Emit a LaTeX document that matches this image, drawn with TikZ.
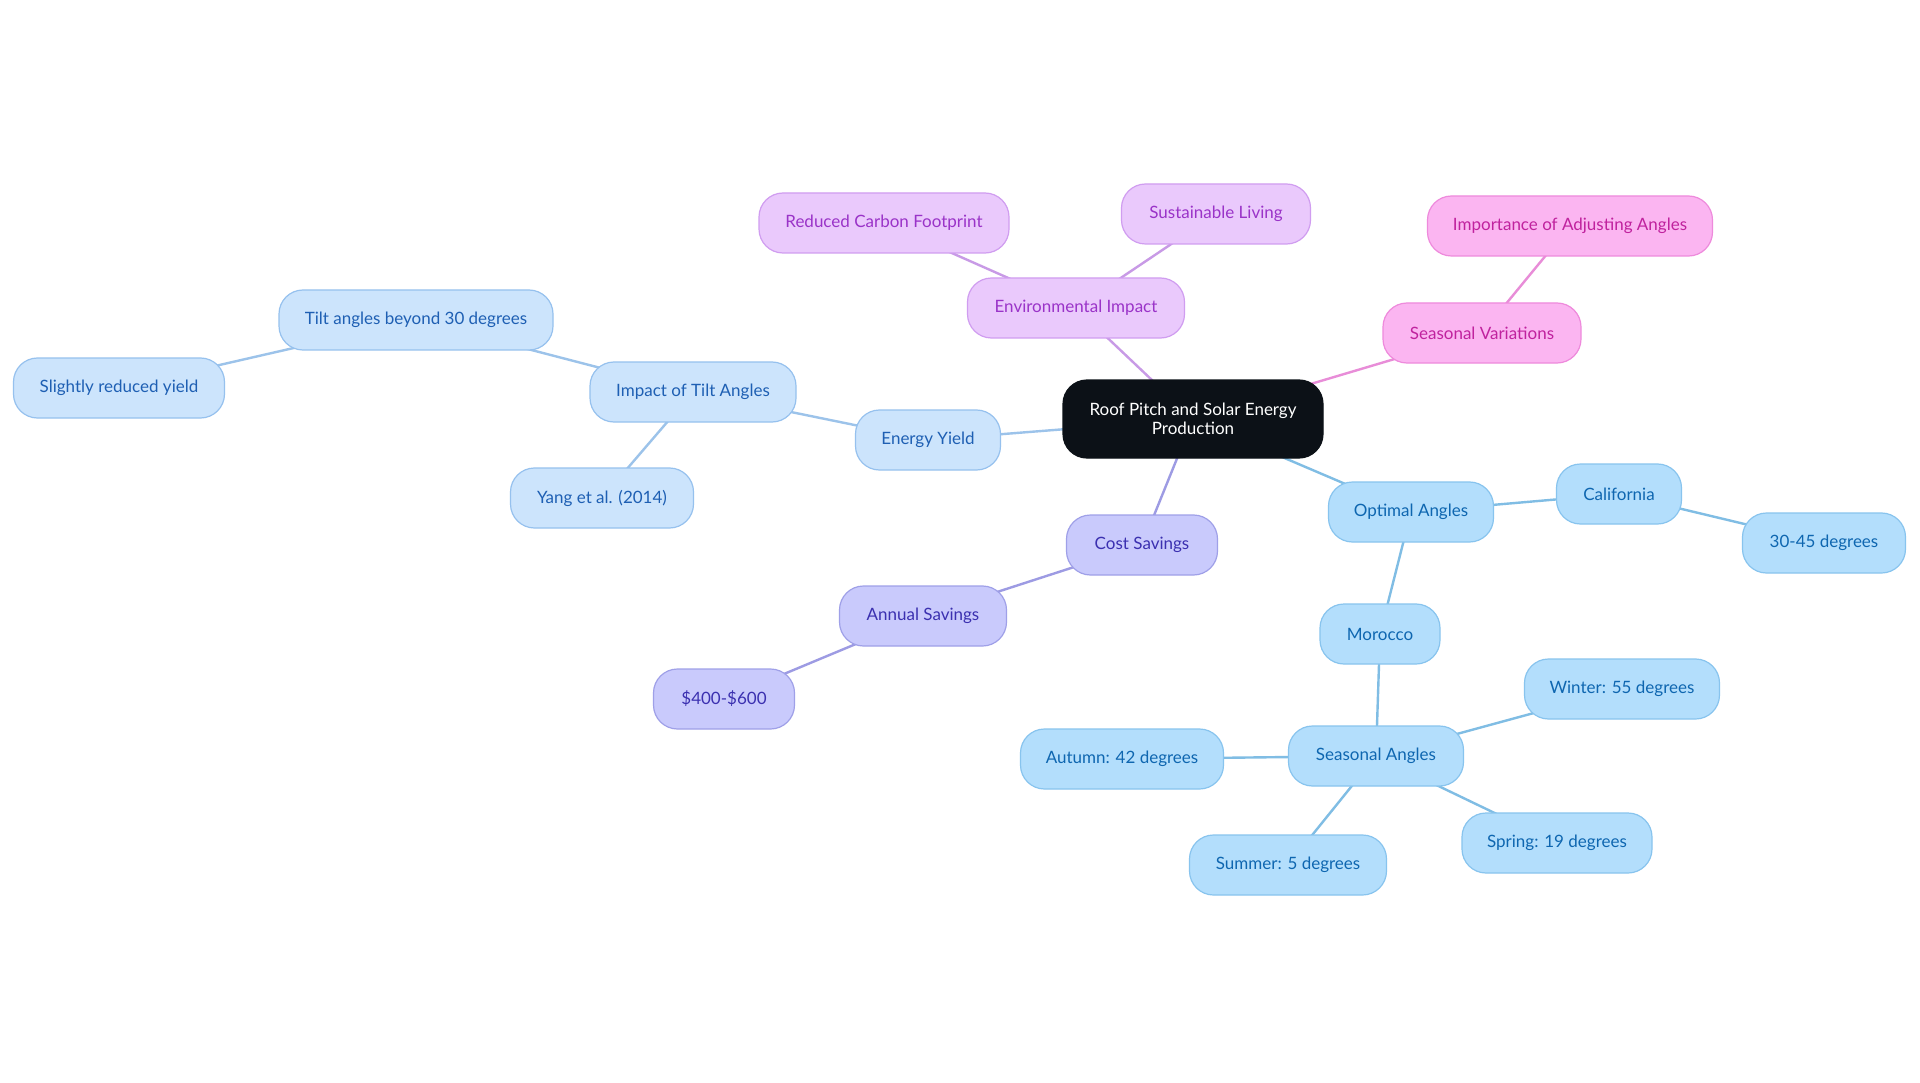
\documentclass[tikz,border=0pt]{standalone}
\usepackage{fontspec}
\setmainfont{Lato}
\usetikzlibrary{backgrounds}
\definecolor{rootfill}{HTML}{0C1117}
\definecolor{bfill}{HTML}{CCE4FC}\definecolor{bdraw}{HTML}{96C1EE}\definecolor{btext}{HTML}{1E5FB3}\definecolor{bedge}{HTML}{9CC3EA}
\definecolor{cfill}{HTML}{B3DEFC}\definecolor{cdraw}{HTML}{88C4EE}\definecolor{ctext}{HTML}{0E66B0}\definecolor{cedge}{HTML}{80BDE4}
\definecolor{pfill}{HTML}{EAC9FC}\definecolor{pdraw}{HTML}{D09DF0}\definecolor{ptext}{HTML}{9A33C8}\definecolor{pedge}{HTML}{C89AE6}
\definecolor{kfill}{HTML}{FBB5F1}\definecolor{kdraw}{HTML}{EE8ADC}\definecolor{ktext}{HTML}{C0229E}\definecolor{kedge}{HTML}{E88DD8}
\definecolor{lfill}{HTML}{C9CAFC}\definecolor{ldraw}{HTML}{9FA0E8}\definecolor{ltext}{HTML}{3B30B0}\definecolor{ledge}{HTML}{9D9BE3}
\begin{document}
\begin{tikzpicture}[x=1pt,y=-1pt,
  box/.style={rounded corners=24pt, minimum height=60pt, line width=1.2pt, inner sep=0pt, align=center, font=\fontsize{17}{20}\selectfont},
  rootbox/.style={box, fill=rootfill, draw=rootfill, text=white, minimum height=78pt, minimum width=260pt, font=\fontsize{17}{18.5}\selectfont},
  bluebox/.style={box, fill=bfill, draw=bdraw, text=btext},
  cyanbox/.style={box, fill=cfill, draw=cdraw, text=ctext},
  purpbox/.style={box, fill=pfill, draw=pdraw, text=ptext},
  pinkbox/.style={box, fill=kfill, draw=kdraw, text=ktext},
  lavbox/.style={box, fill=lfill, draw=ldraw, text=ltext},
  link/.style={line width=2.4pt}
]
\useasboundingbox (0,0) rectangle (1920,1083);
\node[rootbox] (root) at (1193,419) {Roof Pitch and Solar Energy\\Production};
% Energy yield branch
\node[bluebox, minimum width=145pt] (ey) at (928,440) {Energy Yield};
\node[bluebox, minimum width=206pt] (ita) at (693,392) {Impact of Tilt Angles};
\node[bluebox, minimum width=274pt] (tab) at (416,320) {Tilt angles beyond 30 degrees};
\node[bluebox, minimum width=211pt] (sry) at (119,388) {Slightly reduced yield};
\node[bluebox, minimum width=183pt] (yang) at (602,498) {Yang et al. (2014)};
% Environmental
\node[purpbox, minimum width=217pt] (env) at (1076,308) {Environmental Impact};
\node[purpbox, minimum width=250pt] (rcf) at (884,223) {Reduced Carbon Footprint};
\node[purpbox, minimum width=189pt] (sl) at (1216,214) {Sustainable Living};
% Seasonal variations
\node[pinkbox, minimum width=198pt] (sv) at (1482,333) {Seasonal Variations};
\node[pinkbox, minimum width=285pt] (iaa) at (1570,226) {Importance of Adjusting Angles};
% Cost savings
\node[lavbox, minimum width=151pt] (cs) at (1142,545) {Cost Savings};
\node[lavbox, minimum width=167pt] (as) at (923,616) {Annual Savings};
\node[lavbox, minimum width=141pt] (usd) at (724,699) {\$400-\$600};
% Optimal angles
\node[cyanbox, minimum width=165pt] (oa) at (1411,512) {Optimal Angles};
\node[cyanbox, minimum width=125pt] (cal) at (1619,494) {California};
\node[cyanbox, minimum width=163pt] (c45) at (1824,543) {30-45 degrees};
\node[cyanbox, minimum width=120pt] (mor) at (1380,634) {Morocco};
\node[cyanbox, minimum width=175pt] (sa) at (1376,756) {Seasonal Angles};
\node[cyanbox, minimum width=195pt] (win) at (1622,689) {Winter: 55 degrees};
\node[cyanbox, minimum width=203pt] (aut) at (1122,759) {Autumn: 42 degrees};
\node[cyanbox, minimum width=197pt] (sum) at (1288,865) {Summer: 5 degrees};
\node[cyanbox, minimum width=190pt] (spr) at (1557,843) {Spring: 19 degrees};
\begin{scope}[on background layer]
\fill[white] (0,0) rectangle (1920,1083);
\draw[link, bedge] (root.center) -- (ey.center);
\draw[link, bedge] (ey.center) -- (ita.center);
\draw[link, bedge] (ita.center) -- (tab.center);
\draw[link, bedge] (tab.center) -- (sry.center);
\draw[link, bedge] (ita.center) -- (yang.center);
\draw[link, pedge] (root.center) -- (env.center);
\draw[link, pedge] (env.center) -- (rcf.center);
\draw[link, pedge] (env.center) -- (sl.center);
\draw[link, kedge] (root.center) -- (sv.center);
\draw[link, kedge] (sv.center) -- (iaa.center);
\draw[link, ledge] (root.center) -- (cs.center);
\draw[link, ledge] (cs.center) -- (as.center);
\draw[link, ledge] (as.center) -- (usd.center);
\draw[link, cedge] (root.center) -- (oa.center);
\draw[link, cedge] (oa.center) -- (cal.center);
\draw[link, cedge] (cal.center) -- (c45.center);
\draw[link, cedge] (oa.center) -- (mor.center);
\draw[link, cedge] (mor.center) -- (sa.center);
\draw[link, cedge] (sa.center) -- (win.center);
\draw[link, cedge] (sa.center) -- (aut.center);
\draw[link, cedge] (sa.center) -- (sum.center);
\draw[link, cedge] (sa.center) -- (spr.center);
\end{scope}
\end{tikzpicture}
\end{document}
